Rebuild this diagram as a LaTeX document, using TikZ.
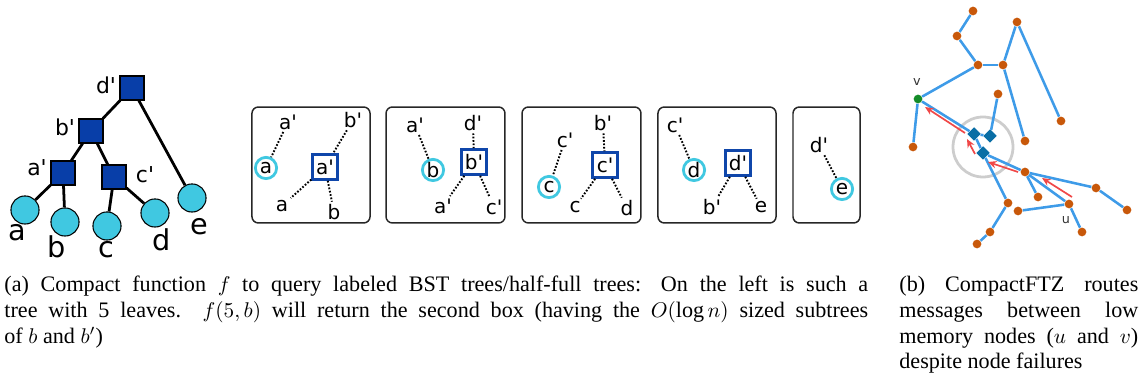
\documentclass[tikz,border=0pt]{standalone}
\usepackage{fontspec}
\setmainfont{Liberation Serif}
\newfontfamily\dejavu[Ligatures=TeXOff]{DejaVu Sans}
\usetikzlibrary{shapes.geometric,arrows.meta}
\definecolor{treeblue}{RGB}{8,62,168}
\definecolor{leafcyan}{RGB}{64,200,225}
\definecolor{edgeblue}{RGB}{62,155,232}
\definecolor{nodeorange}{RGB}{200,88,10}
\definecolor{nodegreen}{RGB}{20,140,40}
\definecolor{failblue}{RGB}{10,110,165}
\definecolor{arrowred}{RGB}{240,72,72}
\definecolor{ringgray}{RGB}{205,205,205}
\definecolor{boxsq}{RGB}{15,70,170}
\begin{document}
\begin{tikzpicture}[x=0.47pt,y=-0.47pt,
  tsq/.style={rectangle,draw=black,line width=0.5pt,fill=treeblue,minimum size=11.3pt,inner sep=0},
  tleaf/.style={circle,draw=black,line width=0.5pt,fill=leafcyan,minimum size=13.2pt,inner sep=0},
  tlab/.style={font=\dejavu\fontsize{10.3}{12}\selectfont,inner sep=0},
  leaflab/.style={font=\dejavu\fontsize{13.5}{15}\selectfont,inner sep=0},
  tedge/.style={line width=1.3pt},
  frame/.style={draw=black!85,line width=0.7pt,rounded corners=3pt,minimum height=54.5pt,inner sep=0},
  bsq/.style={rectangle,draw=boxsq,line width=1.3pt,minimum size=11.7pt,inner sep=0,font=\dejavu\fontsize{9.4}{11}\selectfont},
  bcirc/.style={circle,draw=leafcyan,line width=1.3pt,minimum size=10pt,inner sep=0,font=\dejavu\fontsize{9.4}{11}\selectfont},
  blab/.style={font=\dejavu\fontsize{9.4}{11}\selectfont,inner sep=1pt},
  dots/.style={line width=0.9pt,dash pattern=on 0.8pt off 0.8pt},
  gdot/.style={circle,fill=nodeorange,minimum size=4.1pt,inner sep=0},
  gedge/.style={edgeblue,line width=1.2pt},
  fdia/.style={diamond,aspect=1,fill=failblue,minimum size=6.5pt,inner sep=0},
  rarrow/.style={arrowred,line width=0.8pt,-{Stealth[length=4pt,width=3.5pt]}},
  glab/.style={font=\dejavu\fontsize{6}{7}\selectfont,text=black!80,inner sep=0},
  caption/.style={inner sep=0,align=justify,font=\fontsize{10.4}{12}\selectfont}
]
\useasboundingbox (0,0) rectangle (1141,385);

% ---------- tree ----------
\node[tsq] (dp) at (132,88) {};
\node[tsq] (bp) at (91,131) {};
\node[tsq] (ap) at (63,173) {};
\node[tsq] (cp) at (114,177) {};
\node[tleaf] (la) at (25,210) {};
\node[tleaf] (lb) at (65,222) {};
\node[tleaf] (lc) at (107,226) {};
\node[tleaf] (ld) at (155,213) {};
\node[tleaf] (le) at (192,198) {};
\draw[tedge] (dp) -- (bp);
\draw[tedge] (dp) -- (le);
\draw[tedge] (bp) -- (ap);
\draw[tedge] (bp) -- (cp);
\draw[tedge] (ap) -- (la);
\draw[tedge] (ap) -- (lb);
\draw[tedge] (cp) -- (lc);
\draw[tedge] (cp) -- (ld);
\node[tlab] (dpl) at (106,85) {d'};
\node[tlab] (bpl) at (65,127) {b'};
\node[tlab] (apl) at (37,168) {a'};
\node[tlab] (cpl) at (145,175) {c'};
\node[leaflab] (lal) at (17,233) {a};
\node[leaflab] (lbl) at (57,247) {b};
\node[leaflab] (lcl) at (106,250) {c};
\node[leaflab] (ldl) at (162,240) {d};
\node[leaflab] (lel) at (199,227) {e};

% ---------- boxes ----------
\node[frame,minimum width=55.5pt] (f1) at (311,165) {};
\node[frame,minimum width=55.9pt] (f2) at (445.5,165) {};
\node[frame,minimum width=55.9pt] (f3) at (581.5,165) {};
\node[frame,minimum width=55.5pt] (f4) at (717,165) {};
\node[frame,minimum width=31.5pt] (f5) at (826.5,165) {};

% box 1
\node[blab] (t1a) at (288,122) {a'};
\node[blab] (t1b) at (353,120) {b'};
\node[bcirc] (c1) at (266,168) {a};
\node[bsq] (s1) at (325,167) {a'};
\node[blab] (u1a) at (282,206) {a};
\node[blab] (u1b) at (334,212) {b};
\draw[dots] (t1a) -- (c1);
\draw[dots] (t1b) -- (s1);
\draw[dots] (s1) -- (u1a);
\draw[dots] (s1) -- (u1b);
% box 2
\node[blab] (t2a) at (415,125) {a'};
\node[blab] (t2d) at (473,123) {d'};
\node[bcirc] (c2) at (433,170) {b};
\node[bsq] (s2) at (474,162) {b'};
\node[blab] (u2a) at (443,206) {a'};
\node[blab] (u2c) at (494,207) {c'};
\draw[dots] (t2a) -- (c2);
\draw[dots] (t2d) -- (s2);
\draw[dots] (s2) -- (u2a);
\draw[dots] (s2) -- (u2c);
% box 3
\node[blab] (t3c) at (565,140) {c'};
\node[blab] (t3b) at (603,123) {b'};
\node[bcirc] (c3) at (549,187) {c};
\node[bsq] (s3) at (605,165) {c'};
\node[blab] (u3c) at (575,207) {c};
\node[blab] (u3d) at (627,208) {d};
\draw[dots] (t3c) -- (c3);
\draw[dots] (t3b) -- (s3);
\draw[dots] (s3) -- (u3c);
\draw[dots] (s3) -- (u3d);
% box 4
\node[blab] (t4c) at (675,125) {c'};
\node[bcirc] (c4) at (694,170) {d};
\node[bsq] (s4) at (738,163) {d'};
\node[blab] (u4b) at (712,207) {b'};
\node[blab] (u4e) at (761,207) {e};
\draw[dots] (t4c) -- (c4);
\draw[dots] (s4) -- (u4b);
\draw[dots] (s4) -- (u4e);
% box 5
\node[blab] (t5d) at (819,145) {d'};
\node[bcirc] (c5) at (842,189) {e};
\draw[dots] (t5d) -- (c5);

% ---------- network ----------
\node[circle,draw=ringgray,line width=1.3pt,minimum size=28.2pt,inner sep=0] (ring) at (983,147) {};
\node[gdot] (g1) at (973,11) {};
\node[gdot] (g2) at (957,36) {};
\node[gdot] (g3) at (978,65) {};
\node[gdot] (g4) at (1003,65) {};
\node[gdot] (g5) at (1017,22) {};
\node[gdot] (g6) at (1061,121) {};
\node[gdot] (g7) at (1025,141) {};
\node[gdot] (g8) at (998,94) {};
\node[gdot,fill=nodegreen] (v) at (918,99) {};
\node[gdot] (g9) at (913,147) {};
\node[fdia] (d1) at (974,134) {};
\node[fdia] (d2) at (990,136) {};
\node[fdia] (d3) at (983,153) {};
\node[gdot] (g10) at (1025,172) {};
\node[gdot] (g11) at (1038,197) {};
\node[gdot] (g12) at (1096,188) {};
\node[gdot] (g13) at (1127,210) {};
\node[gdot] (u) at (1069,204) {};
\node[gdot] (g14) at (1082,232) {};
\node[gdot] (g15) at (1018,211) {};
\node[gdot] (g16) at (1008,203) {};
\node[gdot] (g17) at (990,232) {};
\node[gdot] (g18) at (977,244) {};
\foreach \a/\b in {g1/g2,g2/g3,g3/g4,g4/g5,g5/g6,g4/g7,g3/v,v/g9,v/d1,d1/d2,d1/d3,d2/g8,d3/g10,d3/g16,g10/g12,g10/u,g10/g11,g12/g13,u/g15,u/g14,g16/g17,g17/g18}
  \draw[gedge] (\a) -- (\b);
\coordinate (r1s) at (1072,197); \coordinate (r1e) at (1042,178);
\coordinate (r2s) at (1018,172); \coordinate (r2e) at (988,162);
\coordinate (r3s) at (975,154);  \coordinate (r3e) at (967,139);
\coordinate (r4s) at (965,133);  \coordinate (r4e) at (925,107);
\draw[rarrow] (r1s) -- (r1e);
\draw[rarrow] (r2s) -- (r2e);
\draw[rarrow] (r3s) -- (r3e);
\draw[rarrow] (r4s) -- (r4e);
\node[glab] (vl) at (917,82) {v};
\node[glab] (ul) at (1066,220) {u};

% ---------- captions ----------
\node[caption,text width=406pt,anchor=base west] (capa) at (4,292)
 {(a) Compact function $f$ to query labeled BST trees/half-full trees: On the left is such a\linebreak
  tree with 5 leaves.\ \ $f(5,b)$ will return the second box (having the $O(\log n)$ sized subtrees\linebreak
  of $b$ and $b'$)};
\node[caption,text width=112.3pt,anchor=base west] (capb) at (899,292)
 {(b) CompactFTZ routes\linebreak messages between low\linebreak memory nodes ($u$ and $v$)\linebreak despite node failures};
\end{tikzpicture}
\end{document}
